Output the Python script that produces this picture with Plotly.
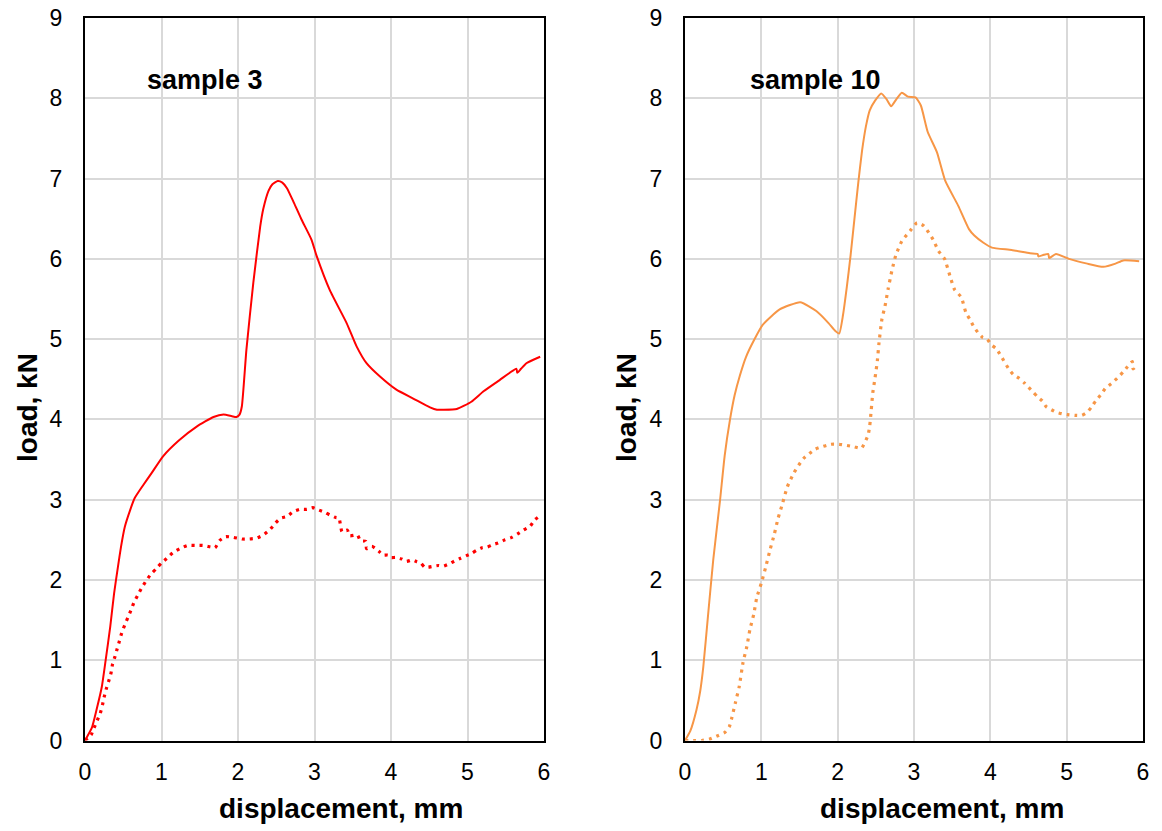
import plotly.graph_objects as go

# ---------------- data ----------------
s3_solid_x = [0, 0.09, 0.15, 0.22, 0.27, 0.33, 0.38, 0.43, 0.47, 0.52, 0.59, 0.65, 0.76, 0.87, 1.02,
              1.23, 1.46, 1.68, 1.81, 1.92, 1.98, 2.02, 2.05, 2.11, 2.2, 2.29, 2.33, 2.4, 2.45, 2.52,
              2.58, 2.64, 2.73, 2.83, 2.96, 3.03, 3.2, 3.42, 3.55, 3.68, 3.86, 4.07, 4.29, 4.51,
              4.6, 4.68, 4.86, 5.05, 5.21, 5.42, 5.64, 5.65, 5.7, 5.77, 5.95]
s3_solid_y = [0, 0.16, 0.38, 0.67, 1.0, 1.42, 1.83, 2.16, 2.41, 2.66, 2.87, 3.02, 3.18, 3.33, 3.54,
              3.74, 3.91, 4.03, 4.06, 4.04, 4.03, 4.06, 4.16, 4.87, 5.7, 6.4, 6.62, 6.85, 6.93, 6.97,
              6.95, 6.88, 6.7, 6.49, 6.24, 6.03, 5.61, 5.2, 4.91, 4.7, 4.53, 4.37, 4.26, 4.15,
              4.12, 4.12, 4.13, 4.22, 4.35, 4.49, 4.63, 4.58, 4.63, 4.7, 4.78]

s3_dot_x = [0, 0.08, 0.12, 0.16, 0.2, 0.23, 0.25, 0.28, 0.31, 0.34, 0.36, 0.39, 0.42, 0.45, 0.48,
            0.52, 0.56, 0.6, 0.64, 0.69, 0.74, 0.8, 0.86, 0.93, 1.0, 1.07, 1.15, 1.24, 1.34, 1.44,
            1.54, 1.64, 1.7, 1.76, 1.84, 1.94, 2.05, 2.15, 2.24, 2.33, 2.42, 2.49, 2.56, 2.64,
            2.72, 2.81, 2.9, 2.98, 3.06, 3.14, 3.2, 3.27, 3.32, 3.34, 3.36, 3.43, 3.46, 3.56, 3.6,
            3.67, 3.68, 3.75, 3.8, 3.85, 3.89, 3.96, 4.0, 4.07, 4.14, 4.2, 4.28, 4.33, 4.39, 4.44,
            4.49, 4.55, 4.62, 4.68, 4.76, 4.84, 4.91, 4.98, 5.05, 5.12, 5.19, 5.26, 5.33, 5.4,
            5.49, 5.58, 5.65, 5.73, 5.82, 5.88, 5.92]
s3_dot_y = [0, 0.07, 0.16, 0.25, 0.34, 0.45, 0.54, 0.65, 0.74, 0.84, 0.95, 1.04, 1.14, 1.24, 1.34,
            1.44, 1.53, 1.62, 1.72, 1.81, 1.9, 1.99, 2.07, 2.14, 2.21, 2.27, 2.34, 2.39, 2.43, 2.43,
            2.43, 2.41, 2.4, 2.49, 2.54, 2.53, 2.51, 2.51, 2.52, 2.56, 2.63, 2.71, 2.77, 2.79,
            2.85, 2.88, 2.88, 2.9, 2.87, 2.84, 2.81, 2.78, 2.77, 2.68, 2.6, 2.62, 2.55, 2.56, 2.49,
            2.48, 2.39, 2.42, 2.39, 2.35, 2.31, 2.31, 2.28, 2.28, 2.26, 2.23, 2.25, 2.23, 2.21, 2.16,
            2.16, 2.17, 2.18, 2.17, 2.2, 2.24, 2.27, 2.3, 2.33, 2.37, 2.4, 2.41, 2.44, 2.46,
            2.5, 2.53, 2.57, 2.62, 2.67, 2.75, 2.78]

s10_solid_x = [0, 0.07, 0.15, 0.2, 0.24, 0.3, 0.37, 0.46, 0.52, 0.59, 0.65, 0.72, 0.8, 0.9, 1.02,
               1.24, 1.51, 1.72, 1.88, 1.97, 2.02, 2.07, 2.12, 2.17, 2.22, 2.27, 2.32, 2.37, 2.42,
               2.49, 2.57, 2.64, 2.7, 2.77, 2.84, 2.92, 3.02, 3.09, 3.18, 3.3, 3.41, 3.58, 3.72,
               3.79, 3.91, 4.02, 4.28, 4.52, 4.62, 4.63, 4.7, 4.76, 4.77, 4.86, 5.03, 5.27, 5.48,
               5.64, 5.74, 5.95]
s10_solid_y = [0, 0.12, 0.38, 0.62, 0.92, 1.54, 2.25, 3.0, 3.55, 4.0, 4.3, 4.55, 4.78, 4.98, 5.18,
               5.37, 5.46, 5.35, 5.2, 5.1, 5.07, 5.3, 5.65, 6.05, 6.5, 6.95, 7.35, 7.65, 7.85,
               7.97, 8.06, 7.99, 7.9, 7.99, 8.07, 8.02, 8.01, 7.91, 7.58, 7.33, 6.97, 6.66, 6.37,
               6.29, 6.2, 6.14, 6.11, 6.07, 6.06, 6.03, 6.05, 6.06, 6.01, 6.06, 6.0, 5.94, 5.9,
               5.94, 5.98, 5.97]

s10_dot_x = [0, 0.11, 0.22, 0.33, 0.43, 0.52, 0.58, 0.61, 0.66, 0.71, 0.76, 0.81, 0.85, 0.9, 0.94,
             1.0, 1.06, 1.11, 1.17, 1.22, 1.28, 1.34, 1.43, 1.55, 1.71, 1.91, 2.02, 2.21, 2.31,
             2.36, 2.4, 2.42, 2.44, 2.46, 2.49, 2.52, 2.54, 2.58, 2.62, 2.66, 2.71, 2.76, 2.84,
             2.95, 3.04, 3.13, 3.25, 3.32, 3.4, 3.47, 3.53, 3.62, 3.68, 3.73, 3.78, 3.84, 3.9,
             3.96, 4.01, 4.08, 4.14, 4.24, 4.3, 4.38, 4.45, 4.5, 4.56, 4.62, 4.68, 4.73, 4.8,
             4.86, 4.94, 5.01, 5.12, 5.2, 5.27, 5.33, 5.38, 5.45, 5.51, 5.59, 5.67, 5.74, 5.8,
             5.86, 5.87, 5.91]
s10_dot_y = [0, 0, 0, 0.02, 0.06, 0.1, 0.17, 0.27, 0.47, 0.67, 0.97, 1.17, 1.38, 1.57, 1.78,
             1.96, 2.17, 2.36, 2.57, 2.77, 2.96, 3.16, 3.34, 3.51, 3.63, 3.69, 3.69, 3.66, 3.64,
             3.72, 3.81, 3.92, 4.12, 4.33, 4.52, 4.73, 4.94, 5.25, 5.41, 5.62, 5.85, 6.04, 6.22,
             6.35, 6.45, 6.41, 6.24, 6.1, 6.0, 5.79, 5.62, 5.52, 5.33, 5.25, 5.16, 5.08, 5.02,
             5.0, 4.93, 4.88, 4.79, 4.63, 4.56, 4.51, 4.45, 4.4, 4.34, 4.28, 4.23, 4.16, 4.12,
             4.09, 4.07, 4.06, 4.05, 4.05, 4.09, 4.16, 4.23, 4.31, 4.39, 4.45, 4.52, 4.59, 4.66,
             4.72, 4.63, 4.66]

tick_vals_x = [0, 1, 2, 3, 4, 5, 6]
tick_vals_y = [0, 1, 2, 3, 4, 5, 6, 7, 8, 9]
panel_titles = ["sample 3", "sample 10"]
x_title = "displacement, mm"
y_title = "load, kN"

RED = "#FF0000"
ORANGE = "#F79646"
FONT = "Liberation Sans, Arial, sans-serif"

fig = go.Figure()
fig.add_trace(go.Scatter(x=s3_solid_x, y=s3_solid_y, mode="lines",
                         line=dict(color=RED, width=2, shape="spline", smoothing=0.5),
                         xaxis="x", yaxis="y"))
fig.add_trace(go.Scatter(x=s3_dot_x, y=s3_dot_y, mode="lines",
                         line=dict(color=RED, width=3.2, dash="3px,5px", shape="spline", smoothing=0.5),
                         xaxis="x", yaxis="y"))
fig.add_trace(go.Scatter(x=s10_solid_x, y=s10_solid_y, mode="lines",
                         line=dict(color=ORANGE, width=2, shape="spline", smoothing=0.5),
                         xaxis="x2", yaxis="y2"))
fig.add_trace(go.Scatter(x=s10_dot_x, y=s10_dot_y, mode="lines",
                         line=dict(color=ORANGE, width=3.2, dash="3px,5px", shape="spline", smoothing=0.5),
                         xaxis="x2", yaxis="y2"))

# page body has an 8px margin: figure is drawn at (8, 8) in the window
OFF = 8
W, H = 1162 - OFF, 831 - OFF


def px_x(p):
    return (p - OFF) / W


def px_y(p):
    return 1 - (p - OFF) / H


ydom = [px_y(740.5), px_y(18)]

axis_common = dict(showgrid=True, gridcolor="#D9D9D9", gridwidth=1.5,
                   showline=True, linecolor="black", linewidth=2, mirror=True,
                   zeroline=False, ticks="", automargin=False, ticklabeloverflow="allow",
                   tickfont=dict(family=FONT, size=23, color="black"))

fig.update_layout(
    width=W, height=H, showlegend=False,
    margin=dict(l=0, r=0, t=0, b=0, autoexpand=False),
    paper_bgcolor="white", plot_bgcolor="white",
    xaxis=dict(domain=[px_x(85), px_x(544)], range=[0, 6], tickvals=tick_vals_x,
               anchor="y", ticklabelstandoff=10, **axis_common),
    yaxis=dict(domain=ydom, range=[0, 9], tickvals=tick_vals_y,
               anchor="x", ticklabelstandoff=16, **axis_common),
    xaxis2=dict(domain=[px_x(685), px_x(1143)], range=[0, 6], tickvals=tick_vals_x,
                anchor="y2", ticklabelstandoff=10, **axis_common),
    yaxis2=dict(domain=ydom, range=[0, 9], tickvals=tick_vals_y,
                anchor="x2", ticklabelstandoff=16, **axis_common),
)

ann_font = dict(family=FONT, size=28, color="black")
lab_font = dict(family=FONT, size=27, color="black")
annotations = [
    dict(text="<b>%s</b>" % x_title, x=px_x(341), y=px_y(808), xref="paper", yref="paper",
         xanchor="center", yanchor="middle", showarrow=False, font=ann_font),
    dict(text="<b>%s</b>" % x_title, x=px_x(942), y=px_y(808), xref="paper", yref="paper",
         xanchor="center", yanchor="middle", showarrow=False, font=ann_font),
    dict(text="<b>%s</b>" % y_title, x=px_x(27), y=px_y(408), xref="paper", yref="paper",
         xanchor="center", yanchor="middle", showarrow=False, textangle=-90, font=ann_font),
    dict(text="<b>%s</b>" % y_title, x=px_x(626), y=px_y(408), xref="paper", yref="paper",
         xanchor="center", yanchor="middle", showarrow=False, textangle=-90, font=ann_font),
    dict(text="<b>%s</b>" % panel_titles[0], x=px_x(205), y=px_y(80), xref="paper", yref="paper",
         xanchor="center", yanchor="middle", showarrow=False, font=lab_font),
    dict(text="<b>%s</b>" % panel_titles[1], x=px_x(815), y=px_y(80), xref="paper", yref="paper",
         xanchor="center", yanchor="middle", showarrow=False, font=lab_font),
]
fig.update_layout(annotations=annotations)

fig.write_html("out.html")
